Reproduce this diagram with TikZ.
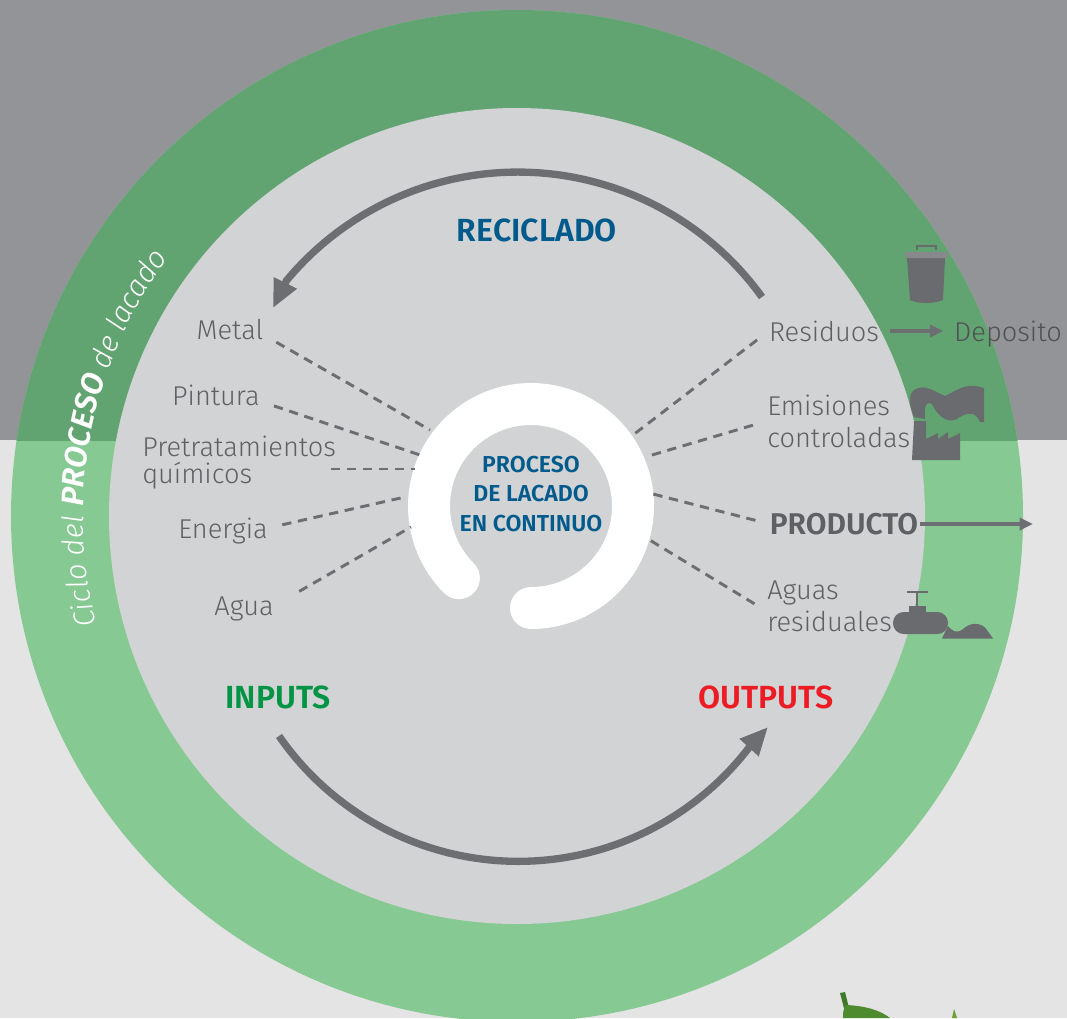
\documentclass[tikz,border=0pt]{standalone}
\usepackage{fontspec}
\setmainfont{Fira Sans}[UprightFont=* Light, ItalicFont=* Light Italic, BoldFont=* SemiBold, BoldItalicFont=* SemiBold Italic]
\usetikzlibrary{arrows.meta}
\usetikzlibrary{decorations.text}
\definecolor{topgray}{HTML}{929497}
\definecolor{paper}{HTML}{E4E4E4}
\definecolor{darkring}{HTML}{62A471}
\definecolor{lightring}{HTML}{86C993}
\definecolor{disc}{HTML}{D1D3D4}
\definecolor{ink}{HTML}{6D6E71}
\definecolor{inkdark}{HTML}{505153}
\definecolor{inktext}{HTML}{5F6063}
\definecolor{icon}{HTML}{6A6B6F}
\definecolor{titleblue}{HTML}{005A8C}
\definecolor{titlegreen}{HTML}{009444}
\definecolor{titlered}{HTML}{ED1C24}
\definecolor{leafdark}{HTML}{3F7A2A}
\definecolor{leaf}{HTML}{4E8A2E}
\definecolor{leaflight}{HTML}{6FA032}
\tikzset{x=0.75pt, y=0.75pt,
item/.style={ % Sets the look of each flow label
text=inktext,
inner sep=0pt,
text depth=0pt,
font=\fontsize{20.4}{20.4}\selectfont},
itemtwo/.style={
item,
align=left,
anchor=west},
title/.style={
inner sep=0pt,
font=\fontsize{24}{24}\selectfont\bfseries},
dashline/.style={
draw=ink,
line width=2.2pt,
dash pattern=on 7pt off 5pt,
shorten <=11pt},
flowline/.style={
draw=ink,
line width=2.5pt,
-{Triangle[length=10pt,width=9pt]}},
cycle/.style={
draw=ink,
line width=5.5pt,
-{Triangle[length=21pt,width=18pt]}}}

\begin{document}
\begin{tikzpicture}
\useasboundingbox (0,-1018) rectangle (1067,0);
\clip (0,-1018) rectangle (1067,0);
% background and rings
\fill[paper] (0,-1018) rectangle (1067,0);
\fill[topgray] (0,-440) rectangle (1067,0);
\fill[lightring] (517,-516) circle (506);
\begin{scope}
\clip (0,-440) rectangle (1067,0);
\fill[darkring] (517,-516) circle (506);
\end{scope}
\fill[disc] (517,-516) circle (408);
\draw[white, line width=31.5pt, line cap=round] (531,-608) arc[start angle=270, end angle=585, radius=102];
% leaves
\fill[leafdark] (840,-993) -- (845,-992) -- (849,-1008) -- (845,-1012) -- cycle;
\fill[leaf] (843,-1018) .. controls (843,-1010) and (844,-1006) .. (847,-1005) .. controls (865,-1006) and (880,-1010) .. (890,-1018) -- cycle;
\fill[leaflight] (954,-1009) -- (957,-1018) -- (952,-1018) -- cycle;
% ring text
\path[decorate, decoration={text along path, text align=left,
text={|\color{white}\fontsize{22}{22}\selectfont\itshape|Ciclo del |\color{white}\fontsize{23.5}{23.5}\selectfont\itshape\bfseries|PROCESO |\color{white}\fontsize{22}{22}\selectfont\itshape|de lacado}}]
(517,-516) ++(194.5:434) arc[start angle=194.5, end angle=130, radius=434];
% centre
\node[inner sep=0pt, align=center, text=titleblue, font=\fontsize{17.3}{22}\selectfont\bfseries] (centre) at (531,-494) {PROCESO\\DE LACADO\\EN CONTINUO};
% titles
\node[title, text=titleblue] (reciclado) at (537,-230) {RECICLADO};
\node[title, text=titlegreen] (inputs) at (278,-697) {INPUTS};
\node[title, text=titlered] (outputs) at (766,-697) {OUTPUTS};
% inputs
\node[item] (metal) at (230,-329) {Metal};
\node[item] (pintura) at (216,-395) {Pintura};
\node[itemtwo] (pret) at (142,-459.5) {Pretratamientos\\[-0.5pt]químicos};
\node[item] (energia) at (223,-528) {Energia};
\node[item] (agua) at (244,-606) {Agua};
% outputs
\node[item] (residuos) at (824,-331) {Residuos};
\node[item, text=inkdark] (deposito) at (1008,-331) {Deposito};
\node[itemtwo] (emisiones) at (767,-421) {Emisiones\\[3.5pt]controladas};
\node[item, font=\fontsize{22.5}{22.5}\selectfont\bfseries] (producto) at (844,-524) {PRODUCTO};
\node[itemtwo] (aguas) at (767,-606) {Aguas\\[3.5pt]residuales};
% free ends
\coordinate (metalin) at (430,-430);
\coordinate (pinturain) at (420,-455);
\coordinate (pretstart) at (331,-469);
\coordinate (pretin) at (415,-469);
\coordinate (energiain) at (405,-497);
\coordinate (aguain) at (411,-527);
\coordinate (residuosout) at (633,-435);
\coordinate (emisionesout) at (652,-455);
\coordinate (productoout) at (653,-494);
\coordinate (aguasout) at (648,-539);
\coordinate (productoend) at (1033,-524);
\coordinate (recstart) at (762,-297);
\coordinate (rectip) at (273,-308);
\coordinate (inpstart) at (279,-736);
\coordinate (inptip) at (768,-727);
% dashed lines
\draw[dashline] (metal.-10) -- (metalin);
\draw[dashline] (pintura.-8) -- (pinturain);
\draw[dashline, shorten <=0pt] (pretstart) -- (pretin);
\draw[dashline] (energia.east) -- (energiain);
\draw[dashline, shorten <=22pt] (agua.east) -- (aguain);
\draw[dashline] (residuos.west) -- (residuosout);
\draw[dashline] (emisiones.west) -- (emisionesout);
\draw[dashline] (producto.west) -- (productoout);
\draw[dashline] (aguas.185) -- (aguasout);
% arrows
\draw[flowline, shorten <=8pt, shorten >=8pt] (residuos.east) -- (deposito.west);
\draw[flowline, shorten <=1pt] (producto.east) -- (productoend);
\draw[cycle] (recstart) arc[start angle=35.8, end angle=140.2, radius=301] -- (rectip);
\draw[cycle] (inpstart) arc[start angle=214.7, end angle=322.3, radius=291] -- (inptip);
% trash can
\fill[icon] (907,-258) -- (945,-258) -- (943,-300) .. controls (935,-304) and (918,-304) .. (910,-300) -- cycle;
\fill[icon!80!white, rounded corners=1.5pt] (905,-258) -- (905,-252) -- (948,-252) -- (948,-258) -- cycle;
\draw[icon, line width=0.8pt] (917,-250) -- (917,-246) -- (936,-246) -- (936,-250);
% factory
\fill[icon] (912,-460) -- (914,-421) -- (926,-421) -- (926,-439) -- (938,-433) -- (938,-439) -- (948,-432) -- (948,-439) -- (960,-433) -- (960,-460) -- cycle;
\fill[icon] (914,-417) .. controls (909,-405) and (908,-395) .. (914,-390) .. controls (925,-383) and (935,-392) .. (945,-396) .. controls (958,-390) and (965,-382) .. (984,-388) -- (984,-422) -- (980,-422) .. controls (976,-412) and (968,-412) .. (960,-417) .. controls (950,-425) and (940,-418) .. (934,-408) .. controls (932,-402) and (928,-402) .. (926,-405) .. controls (924,-410) and (925,-415) .. (925,-419) -- cycle;
% tank and puddle
\fill[icon, rounded corners=8pt] (893,-612) rectangle (948,-634);
\fill[icon] (909,-606) rectangle (926,-613);
\draw[icon, line width=0.8pt] (917,-606) -- (917,-592);
\draw[icon, line width=0.8pt] (907,-592) -- (928,-592);
\fill[icon] (942,-638.5) -- (946,-630) -- (948,-626) .. controls (952,-631) and (957,-634) .. (963,-629) .. controls (970,-622) and (982,-622) .. (987,-630) -- (993,-638.5) -- cycle;
\end{tikzpicture}
\end{document}
